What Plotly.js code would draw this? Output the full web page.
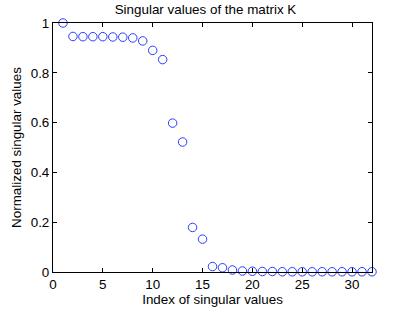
<!DOCTYPE html>
<html><head><meta charset="utf-8">
<script src="https://cdn.plot.ly/plotly-3.0.1.min.js"></script>
<style>html,body{margin:0;padding:0;background:#fff}</style>
</head><body><div id="chart" style="width:411px;height:310px"></div>
<script>
const indices = [1,2,3,4,5,6,7,8,9,10,11,12,13,14,15,16,17,18,19,20,21,22,23,24,25,26,27,28,29,30,31,32];
const singularValues = [1.0,0.946,0.945,0.945,0.945,0.944,0.943,0.940,0.928,0.890,0.853,0.598,0.522,0.179,0.132,0.022,0.017,0.008,0.004,0.003,0.002,0.002,0.001,0.001,0.001,0.001,0.001,0.001,0.001,0.001,0.001,0.001];
const xTicks = [0,5,10,15,20,25,30];
const yTicks = [0,0.2,0.4,0.6,0.8,1];
const yTickText = ['0','0.2','0.4','0.6','0.8','1'];
const fs = 13.4;
const font = {family:'Liberation Sans, Arial, sans-serif', size:fs, color:'#000'};
Plotly.newPlot('chart', [{
  x: indices, y: singularValues, type:'scatter', mode:'markers',
  marker:{symbol:'circle-open', size:8.5, color:'#2a3cff', line:{width:1}},
  cliponaxis:false
}], {
  width:411, height:310,
  margin:{l:53, r:39, t:23, b:38},
  paper_bgcolor:'#fff', plot_bgcolor:'#fff',
  font: font,
  title:{text:'Singular values of the matrix K', font:{family:font.family, size:fs, color:'#000'}, x:0.5, xanchor:'center', y:0.985, yanchor:'top'},
  showlegend:false,
  xaxis:{range:[0,32], tickvals:xTicks, ticks:'inside', ticklen:4, tickcolor:'#000', showline:true, linecolor:'#000', linewidth:1, mirror:'ticks', showgrid:false, zeroline:false,
    title:{text:'Index of singular values', font:{size:fs}, standoff:2}, tickfont:{size:fs}},
  yaxis:{range:[0,1], tickvals:yTicks, ticktext:yTickText, ticks:'inside', ticklen:4, tickcolor:'#000', showline:true, linecolor:'#000', linewidth:1, mirror:'ticks', showgrid:false, zeroline:false,
    title:{text:'Normalized singular values', font:{size:fs}, standoff:6}, tickfont:{size:fs}}
}, {staticPlot:true, displayModeBar:false});
</script></body></html>
